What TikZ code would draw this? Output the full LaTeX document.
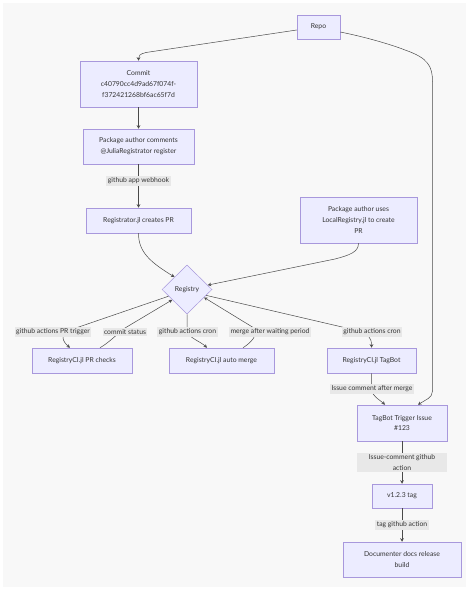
\documentclass[tikz,border=0pt]{standalone}
\usepackage{fontspec}
\setmainfont{Lato}
\usetikzlibrary{arrows.meta,shapes.geometric}
\definecolor{nodefill}{HTML}{ECECFF}
\definecolor{nodeline}{HTML}{A898DC}
\definecolor{ink}{HTML}{333333}
\definecolor{edgecol}{HTML}{4A4A4A}
\definecolor{panel}{HTML}{F8F8F8}
\definecolor{labfill}{HTML}{E8E8E8}
\begin{document}
\begin{tikzpicture}[x=1pt,y=-1pt,
  txt/.style={font=\fontsize{6.8}{10.8}\selectfont, text=ink},
  box/.style={txt, draw=nodeline, fill=nodefill, line width=0.5pt, align=center, inner sep=0pt},
  lab/.style={txt, fill=labfill, inner sep=1.5pt, align=center},
  edge/.style={draw=edgecol, line width=0.5pt, -{Stealth[length=3.5pt,width=3.5pt]}}
]
\useasboundingbox (0,0) rectangle (474,593);
\fill[white] (0,0) rectangle (474,593);
\fill[panel] (3,3) rectangle (466,587);

% nodes
\node[box, minimum width=43pt, minimum height=24pt] (repo) at (318.5,27) {Repo};
\node[box, minimum width=117pt, minimum height=46pt] (commit) at (138.5,84) {Commit\\c40790cc4d9ad67f074f-\\f372421268bf6ac65f7d};
\node[box, minimum width=111pt, minimum height=35pt] (pac) at (138.5,146.5) {Package author comments\\@JuliaRegistrator register};
\node[box, minimum width=105pt, minimum height=25pt] (regjl) at (138.5,220.5) {Registrator.jl creates PR};
\node[box, minimum width=117pt, minimum height=46pt] (local) at (358.5,220) {Package author uses\\LocalRegistry.jl to create\\PR};
\node[box, shape=diamond, minimum width=50pt, minimum height=49pt] (registry) at (187,289.5) {Registry};
\node[box, minimum width=100pt, minimum height=25pt] (prc) at (82,360.5) {RegistryCI.jl PR checks};
\node[box, minimum width=105pt, minimum height=25pt] (am) at (221.5,360.5) {RegistryCI.jl auto merge};
\node[box, minimum width=89pt, minimum height=25pt] (tb) at (371.5,360.5) {RegistryCI.jl TagBot};
\node[box, minimum width=90pt, minimum height=36pt] (tti) at (402,423) {TagBot Trigger Issue\\\#123};
\node[box, minimum width=60pt, minimum height=24pt] (tag) at (402,496) {v1.2.3 tag};
\node[box, minimum width=118pt, minimum height=35pt] (doc) at (402,559.5) {Documenter docs release\\build};

% edges
\draw[edge] ([yshift=-3pt]repo.west) -- (146,52.5) .. controls (139.5,54) and (138.5,56) .. (commit.north);
\draw[edge] ([yshift=-5pt]repo.east) .. controls (370,38) and (395,46) .. (405,50)
  .. controls (428,58) and (432.5,66) .. (432.5,82) -- (432.5,391)
  .. controls (432.5,398) and (425,400) .. ([xshift=16pt]tti.north);
\draw[edge] (commit) -- (pac);
\draw[edge] (pac) -- (regjl);
\draw[edge] (regjl.south) .. controls (138.5,252) and (150,262) .. (registry.135);
\draw[edge] (local.south) .. controls (358.5,252) and (350,255) .. (335,259) -- (registry.12);
\draw[edge] (registry.200) -- (70,330) .. controls (60,334) and (62,341) .. ([xshift=-12pt]prc.north);
\draw[edge] ([xshift=18pt]prc.north) .. controls (110,342) and (118,333) .. (125,328) -- (registry.215);
\draw[edge] (registry.south) -- (187,330) .. controls (188,338) and (200,341) .. ([xshift=-14.5pt]am.north);
\draw[edge] ([xshift=21.5pt]am.north) .. controls (252,342) and (258,335) .. (254,328) -- (registry.335);
\draw[edge] (registry.343) -- (355,330) .. controls (369,333) and (371.5,338) .. (tb.north);
\draw[edge] (tb.south) -- (371.5,389) .. controls (371.5,396) and (380,400) .. ([xshift=-17pt]tti.north);
\draw[edge] (tti) -- (tag);
\draw[edge] (tag) -- (doc);

% edge labels
\node[lab] (lwh) at (138.5,181) {github app webhook};
\node[lab] (l1) at (53,332) {github actions PR trigger};
\node[lab] (l2) at (125,332) {commit status};
\node[lab] (l3) at (187.5,332) {github actions cron};
\node[lab] (l4) at (270,332) {merge after waiting period};
\node[lab] (l5) at (372,332) {github actions cron};
\node[lab] (l6) at (372,389) {Issue comment after merge};
\node[lab, minimum width=90pt] (l7) at (402,462.5) {Issue-comment github\\action};
\node[lab] (l8) at (402,525) {tag github action};
\end{tikzpicture}
\end{document}
